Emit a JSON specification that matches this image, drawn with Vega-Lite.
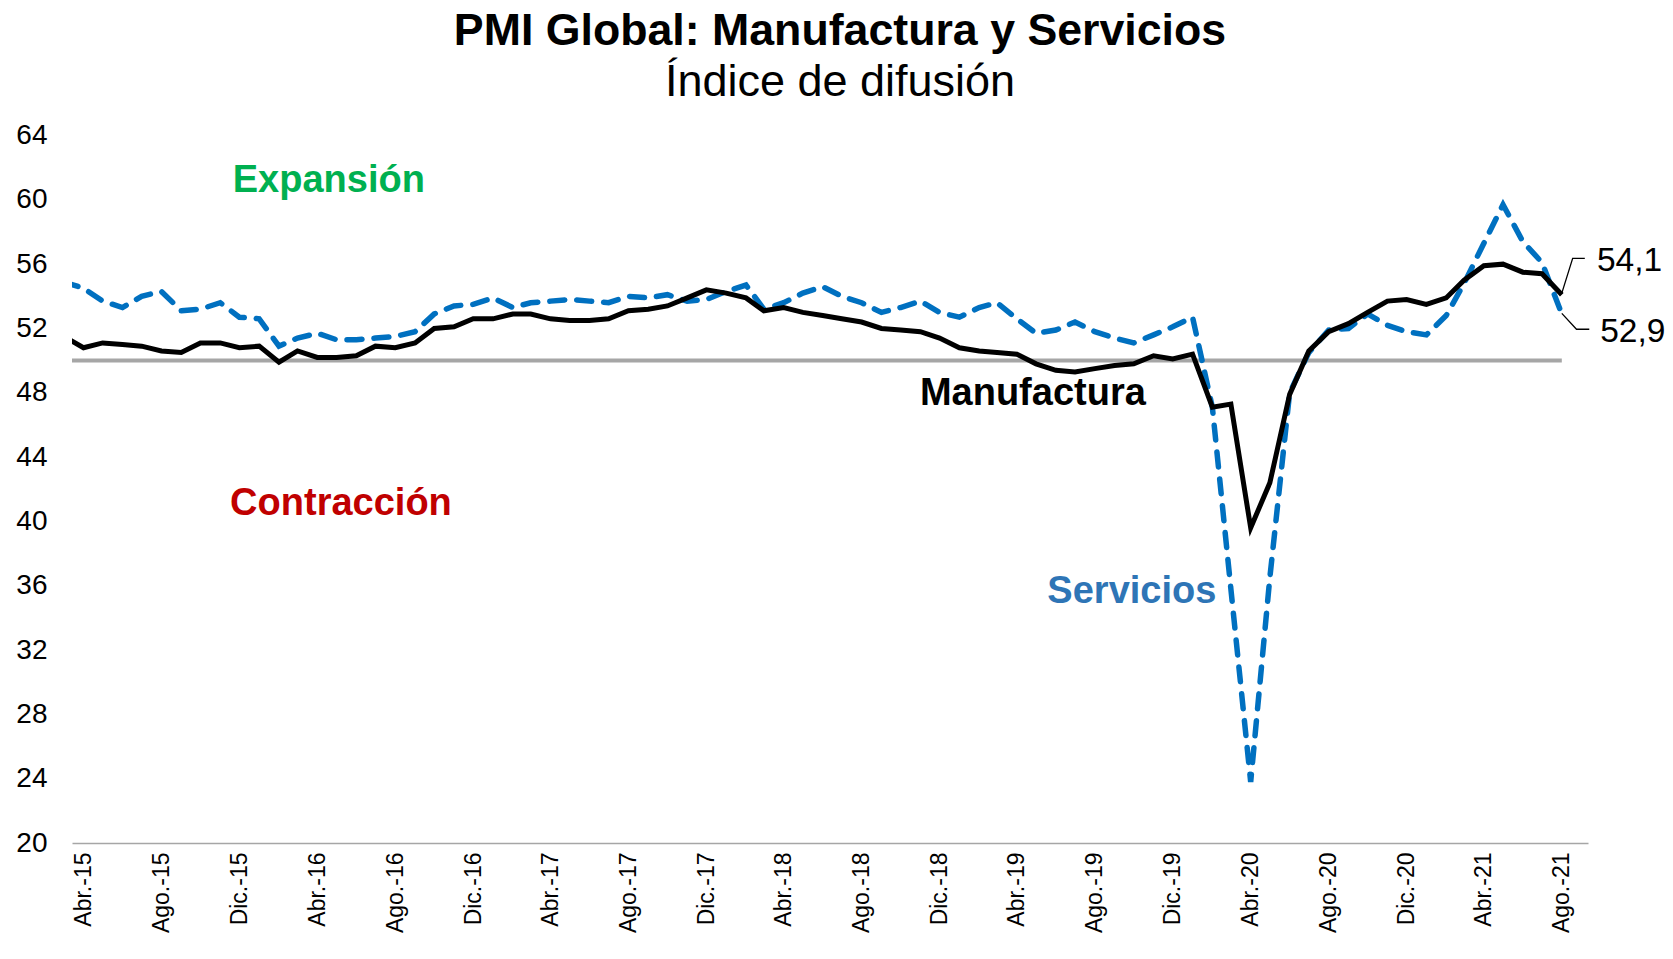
{
  "$schema": "https://vega.github.io/schema/vega-lite/v6.json",
  "autosize": {"type": "none"},
  "padding": {"left": 72, "top": 135.5, "right": 85, "bottom": 116},
  "width": 1516,
  "height": 707.5,
  "background": "white",
  "config": {"view": {"stroke": null}, "font": "Liberation Sans"},
  "title": {
    "text": "PMI Global: Manufactura y Servicios",
    "subtitle": "Índice de difusión",
    "font": "Liberation Sans",
    "fontSize": 44.7,
    "fontWeight": "bold",
    "color": "#000000",
    "subtitleFont": "Liberation Sans",
    "subtitleFontSize": 45,
    "subtitleColor": "#000000",
    "subtitlePadding": 5,
    "anchor": "middle",
    "dx": 10,
    "offset": 16
  },
  "datasets": {
    "pmi": [
      {"fecha": "2015-03-01", "Manufactura": 51.5, "Servicios": 54.9},
      {"fecha": "2015-04-01", "Manufactura": 50.8, "Servicios": 54.5},
      {"fecha": "2015-05-01", "Manufactura": 51.1, "Servicios": 53.7},
      {"fecha": "2015-06-01", "Manufactura": 51.0, "Servicios": 53.3},
      {"fecha": "2015-07-01", "Manufactura": 50.9, "Servicios": 54.0},
      {"fecha": "2015-08-01", "Manufactura": 50.6, "Servicios": 54.3},
      {"fecha": "2015-09-01", "Manufactura": 50.5, "Servicios": 53.1},
      {"fecha": "2015-10-01", "Manufactura": 51.1, "Servicios": 53.2},
      {"fecha": "2015-11-01", "Manufactura": 51.1, "Servicios": 53.6},
      {"fecha": "2015-12-01", "Manufactura": 50.8, "Servicios": 52.7},
      {"fecha": "2016-01-01", "Manufactura": 50.9, "Servicios": 52.6},
      {"fecha": "2016-02-01", "Manufactura": 49.9, "Servicios": 50.9},
      {"fecha": "2016-03-01", "Manufactura": 50.6, "Servicios": 51.4},
      {"fecha": "2016-04-01", "Manufactura": 50.2, "Servicios": 51.7},
      {"fecha": "2016-05-01", "Manufactura": 50.2, "Servicios": 51.3},
      {"fecha": "2016-06-01", "Manufactura": 50.3, "Servicios": 51.3},
      {"fecha": "2016-07-01", "Manufactura": 50.9, "Servicios": 51.4},
      {"fecha": "2016-08-01", "Manufactura": 50.8, "Servicios": 51.5},
      {"fecha": "2016-09-01", "Manufactura": 51.1, "Servicios": 51.8},
      {"fecha": "2016-10-01", "Manufactura": 52.0, "Servicios": 52.9},
      {"fecha": "2016-11-01", "Manufactura": 52.1, "Servicios": 53.4},
      {"fecha": "2016-12-01", "Manufactura": 52.6, "Servicios": 53.5},
      {"fecha": "2017-01-01", "Manufactura": 52.6, "Servicios": 53.9},
      {"fecha": "2017-02-01", "Manufactura": 52.9, "Servicios": 53.3},
      {"fecha": "2017-03-01", "Manufactura": 52.9, "Servicios": 53.6},
      {"fecha": "2017-04-01", "Manufactura": 52.6, "Servicios": 53.7},
      {"fecha": "2017-05-01", "Manufactura": 52.5, "Servicios": 53.8},
      {"fecha": "2017-06-01", "Manufactura": 52.5, "Servicios": 53.7},
      {"fecha": "2017-07-01", "Manufactura": 52.6, "Servicios": 53.6},
      {"fecha": "2017-08-01", "Manufactura": 53.1, "Servicios": 54.0},
      {"fecha": "2017-09-01", "Manufactura": 53.2, "Servicios": 53.9},
      {"fecha": "2017-10-01", "Manufactura": 53.4, "Servicios": 54.1},
      {"fecha": "2017-11-01", "Manufactura": 53.9, "Servicios": 53.7},
      {"fecha": "2017-12-01", "Manufactura": 54.4, "Servicios": 53.8},
      {"fecha": "2018-01-01", "Manufactura": 54.2, "Servicios": 54.3},
      {"fecha": "2018-02-01", "Manufactura": 53.9, "Servicios": 54.7},
      {"fecha": "2018-03-01", "Manufactura": 53.1, "Servicios": 53.2},
      {"fecha": "2018-04-01", "Manufactura": 53.3, "Servicios": 53.6},
      {"fecha": "2018-05-01", "Manufactura": 53.0, "Servicios": 54.2},
      {"fecha": "2018-06-01", "Manufactura": 52.8, "Servicios": 54.6},
      {"fecha": "2018-07-01", "Manufactura": 52.6, "Servicios": 54.0},
      {"fecha": "2018-08-01", "Manufactura": 52.4, "Servicios": 53.6},
      {"fecha": "2018-09-01", "Manufactura": 52.0, "Servicios": 53.0},
      {"fecha": "2018-10-01", "Manufactura": 51.9, "Servicios": 53.3},
      {"fecha": "2018-11-01", "Manufactura": 51.8, "Servicios": 53.7},
      {"fecha": "2018-12-01", "Manufactura": 51.4, "Servicios": 53.0},
      {"fecha": "2019-01-01", "Manufactura": 50.8, "Servicios": 52.7},
      {"fecha": "2019-02-01", "Manufactura": 50.6, "Servicios": 53.3},
      {"fecha": "2019-03-01", "Manufactura": 50.5, "Servicios": 53.6},
      {"fecha": "2019-04-01", "Manufactura": 50.4, "Servicios": 52.6},
      {"fecha": "2019-05-01", "Manufactura": 49.8, "Servicios": 51.7},
      {"fecha": "2019-06-01", "Manufactura": 49.4, "Servicios": 51.9},
      {"fecha": "2019-07-01", "Manufactura": 49.3, "Servicios": 52.4},
      {"fecha": "2019-08-01", "Manufactura": 49.5, "Servicios": 51.8},
      {"fecha": "2019-09-01", "Manufactura": 49.7, "Servicios": 51.4},
      {"fecha": "2019-10-01", "Manufactura": 49.8, "Servicios": 51.1},
      {"fecha": "2019-11-01", "Manufactura": 50.3, "Servicios": 51.6},
      {"fecha": "2019-12-01", "Manufactura": 50.1, "Servicios": 52.1},
      {"fecha": "2020-01-01", "Manufactura": 50.4, "Servicios": 52.7},
      {"fecha": "2020-02-01", "Manufactura": 47.1, "Servicios": 47.1},
      {"fecha": "2020-03-01", "Manufactura": 47.3, "Servicios": 35.8},
      {"fecha": "2020-04-01", "Manufactura": 39.6, "Servicios": 23.8},
      {"fecha": "2020-05-01", "Manufactura": 42.4, "Servicios": 36.5},
      {"fecha": "2020-06-01", "Manufactura": 47.9, "Servicios": 48.0},
      {"fecha": "2020-07-01", "Manufactura": 50.6, "Servicios": 50.5},
      {"fecha": "2020-08-01", "Manufactura": 51.8, "Servicios": 51.9},
      {"fecha": "2020-09-01", "Manufactura": 52.3, "Servicios": 52.0},
      {"fecha": "2020-10-01", "Manufactura": 53.0, "Servicios": 52.9},
      {"fecha": "2020-11-01", "Manufactura": 53.7, "Servicios": 52.2},
      {"fecha": "2020-12-01", "Manufactura": 53.8, "Servicios": 51.8},
      {"fecha": "2021-01-01", "Manufactura": 53.5, "Servicios": 51.6},
      {"fecha": "2021-02-01", "Manufactura": 53.9, "Servicios": 52.8},
      {"fecha": "2021-03-01", "Manufactura": 55.0, "Servicios": 54.8},
      {"fecha": "2021-04-01", "Manufactura": 55.9, "Servicios": 57.3},
      {"fecha": "2021-05-01", "Manufactura": 56.0, "Servicios": 59.7},
      {"fecha": "2021-06-01", "Manufactura": 55.5, "Servicios": 57.4},
      {"fecha": "2021-07-01", "Manufactura": 55.4, "Servicios": 56.1},
      {"fecha": "2021-08-01", "Manufactura": 54.1, "Servicios": 52.9}
    ],
    "umbral": [
      {"fecha": "2015-03-01", "valor": 50},
      {"fecha": "2021-08-01", "valor": 50}
    ],
    "etiquetas": [
      {"fecha": "2016-04-19", "valor": 61.2, "texto": "Expansión"},
      {"fecha": "2016-05-08", "valor": 41.1, "texto": "Contracción"},
      {"fecha": "2019-04-26", "valor": 47.9, "texto": "Manufactura"},
      {"fecha": "2019-09-28", "valor": 35.6, "texto": "Servicios"}
    ],
    "valores": [
      {"fecha": "2021-09-25", "valor": 56.2, "texto": "54,1"},
      {"fecha": "2021-09-30", "valor": 51.8, "texto": "52,9"}
    ],
    "guias": [
      {"grupo": "a", "orden": 1, "fecha": "2021-08-01", "valor": 54.2},
      {"grupo": "a", "orden": 2, "fecha": "2021-08-18", "valor": 56.36},
      {"grupo": "a", "orden": 3, "fecha": "2021-09-06", "valor": 56.36},
      {"grupo": "b", "orden": 1, "fecha": "2021-08-01", "valor": 52.94},
      {"grupo": "b", "orden": 2, "fecha": "2021-08-24", "valor": 51.95},
      {"grupo": "b", "orden": 3, "fecha": "2021-09-13", "valor": 51.95}
    ]
  },
  "encoding": {
    "x": {
      "field": "fecha",
      "type": "temporal",
      "scale": {
        "type": "utc",
        "nice": false,
        "domain": [
          {"year": 2015, "month": 3, "date": 14, "utc": true},
          {"year": 2021, "month": 9, "date": 11, "utc": true}
        ]
      },
      "axis": {
        "title": null,
        "grid": false,
        "ticks": false,
        "domainColor": "#A6A6A6",
        "domainWidth": 1.5,
        "labelAngle": -90,
        "labelAlign": "right",
        "labelBaseline": "middle",
        "labelPadding": 9,
        "labelFont": "Liberation Sans",
        "labelFontSize": 23,
        "labelColor": "#000000",
        "labelOverlap": false,
        "labelBound": false,
        "labelFlush": false,
        "values": [
          {"year": 2015, "month": 4, "date": 1, "utc": true},
          {"year": 2015, "month": 8, "date": 1, "utc": true},
          {"year": 2015, "month": 12, "date": 1, "utc": true},
          {"year": 2016, "month": 4, "date": 1, "utc": true},
          {"year": 2016, "month": 8, "date": 1, "utc": true},
          {"year": 2016, "month": 12, "date": 1, "utc": true},
          {"year": 2017, "month": 4, "date": 1, "utc": true},
          {"year": 2017, "month": 8, "date": 1, "utc": true},
          {"year": 2017, "month": 12, "date": 1, "utc": true},
          {"year": 2018, "month": 4, "date": 1, "utc": true},
          {"year": 2018, "month": 8, "date": 1, "utc": true},
          {"year": 2018, "month": 12, "date": 1, "utc": true},
          {"year": 2019, "month": 4, "date": 1, "utc": true},
          {"year": 2019, "month": 8, "date": 1, "utc": true},
          {"year": 2019, "month": 12, "date": 1, "utc": true},
          {"year": 2020, "month": 4, "date": 1, "utc": true},
          {"year": 2020, "month": 8, "date": 1, "utc": true},
          {"year": 2020, "month": 12, "date": 1, "utc": true},
          {"year": 2021, "month": 4, "date": 1, "utc": true},
          {"year": 2021, "month": 8, "date": 1, "utc": true}
        ],
        "labelExpr": "['Ene.','Feb.','Mar.','Abr.','May.','Jun.','Jul.','Ago.','Sep.','Oct.','Nov.','Dic.'][utcmonth(datum.value)] + '-' + utcFormat(datum.value, '%y')"
      }
    }
  },
  "layer": [
    {
      "data": {"name": "umbral"},
      "mark": {"type": "line", "color": "#A6A6A6", "strokeWidth": 4, "clip": true},
      "encoding": {
        "y": {
          "field": "valor",
          "type": "quantitative",
          "scale": {"domain": [20, 64], "nice": false, "zero": false},
          "axis": {
            "title": null,
            "grid": false,
            "ticks": false,
            "domain": false,
            "values": [20, 24, 28, 32, 36, 40, 44, 48, 52, 56, 60, 64],
            "labelFont": "Liberation Sans",
            "labelFontSize": 28,
            "labelColor": "#000000",
            "labelPadding": 25,
            "labelBound": false,
            "labelFlush": false
          }
        }
      }
    },
    {
      "data": {"name": "pmi"},
      "mark": {"type": "line", "color": "#0070C0", "strokeWidth": 5.5, "strokeDash": [15, 12], "strokeCap": "round", "clip": true},
      "encoding": {"y": {"field": "Servicios", "type": "quantitative"}}
    },
    {
      "data": {"name": "pmi"},
      "mark": {"type": "line", "color": "#000000", "strokeWidth": 5, "clip": true},
      "encoding": {"y": {"field": "Manufactura", "type": "quantitative"}}
    },
    {
      "data": {"name": "guias"},
      "mark": {"type": "line", "color": "#000000", "strokeWidth": 1.3, "clip": false},
      "encoding": {
        "y": {"field": "valor", "type": "quantitative"},
        "detail": {"field": "grupo"},
        "order": {"field": "orden"}
      }
    },
    {
      "data": {"name": "etiquetas"},
      "mark": {"type": "text", "font": "Liberation Sans", "fontSize": 38, "fontWeight": "bold", "align": "center", "baseline": "middle", "clip": false},
      "encoding": {
        "y": {"field": "valor", "type": "quantitative"},
        "text": {"field": "texto"},
        "color": {
          "field": "texto",
          "type": "nominal",
          "legend": null,
          "scale": {
            "domain": ["Expansión", "Contracción", "Manufactura", "Servicios"],
            "range": ["#00B050", "#C00000", "#000000", "#2E75B6"]
          }
        }
      }
    },
    {
      "data": {"name": "valores"},
      "mark": {"type": "text", "font": "Liberation Sans", "fontSize": 33.5, "color": "#000000", "align": "left", "baseline": "middle", "clip": false},
      "encoding": {
        "y": {"field": "valor", "type": "quantitative"},
        "text": {"field": "texto"}
      }
    }
  ]
}
